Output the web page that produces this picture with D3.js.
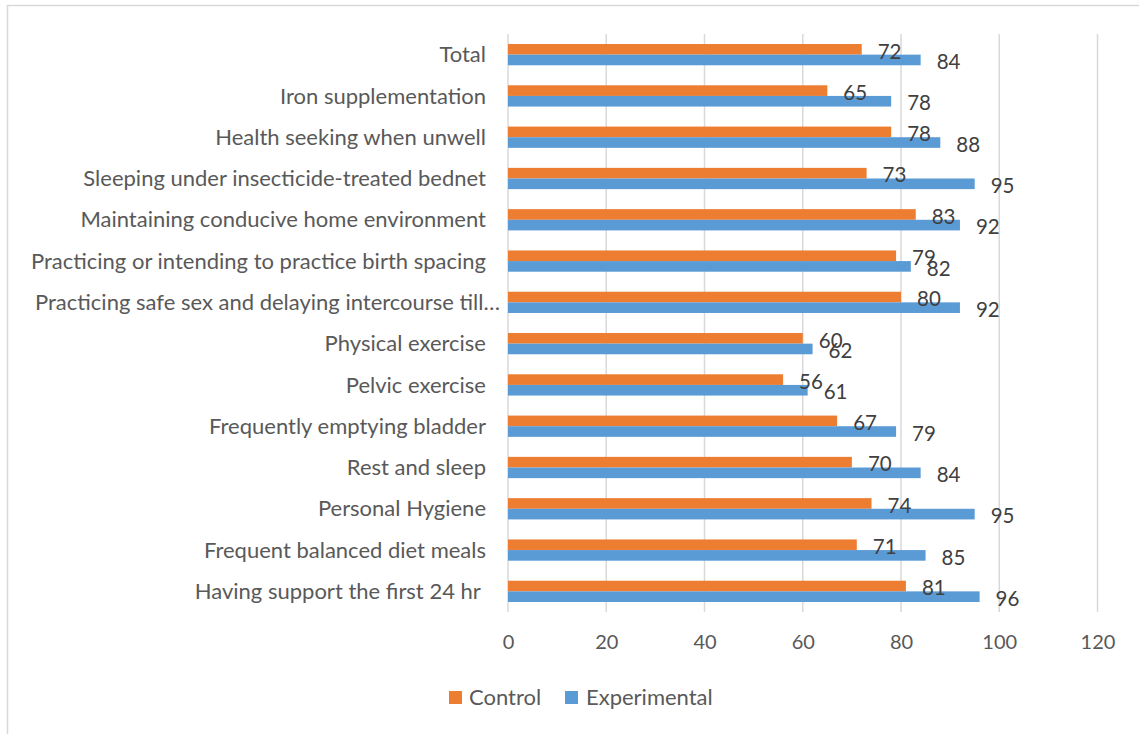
<!DOCTYPE html>
<html>
<head>
<meta charset="utf-8">
<script src="https://cdn.jsdelivr.net/npm/d3@7"></script>
<style>
  html, body { margin: 0; padding: 0; background: #fff; }
  svg { display: block; font-family: "Lato", "Liberation Sans", sans-serif; }
</style>
</head>
<body>
<svg id="chart" width="1139" height="734"></svg>
<script>
// Categories listed top to bottom as drawn
const categories = [
  "Total",
  "Iron supplementation",
  "Health seeking when unwell",
  "Sleeping under insecticide-treated bednet",
  "Maintaining conducive home environment",
  "Practicing or intending to practice birth spacing",
  "Practicing safe sex and delaying intercourse till…",
  "Physical exercise",
  "Pelvic exercise",
  "Frequently emptying bladder",
  "Rest and sleep",
  "Personal Hygiene",
  "Frequent balanced diet meals",
  "Having support the first 24 hr "
];
const controlValues      = [72, 65, 78, 73, 83, 79, 80, 60, 56, 67, 70, 74, 71, 81];
const experimentalValues = [84, 78, 88, 95, 92, 82, 92, 62, 61, 79, 84, 95, 85, 96];
const seriesNames = ["Control", "Experimental"];
const seriesColors = ["#ED7D31", "#5B9BD5"];
const xTicks = [0, 20, 40, 60, 80, 100, 120];

const rows = categories.map((c, i) => ({
  category: c,
  values: [controlValues[i], experimentalValues[i]]
}));

const svg = d3.select("#chart");

// outer chart frame
svg.append("rect")
  .attr("x", 7.5).attr("y", 5.5)
  .attr("width", 1200).attr("height", 800)
  .attr("fill", "none").attr("stroke", "#D9D9D9").attr("stroke-width", 1.5);

const plot = { left: 508, right: 1097.5, top: 34, bottom: 612 };

const x = d3.scaleLinear().domain([0, 120]).range([plot.left, plot.right]);
const y = d3.scaleBand().domain(categories)
  .range([plot.top, plot.bottom])
  .paddingInner(0.485).paddingOuter(0.2425);
const ySub = d3.scaleBand().domain(seriesNames).range([0, y.bandwidth()]);

// vertical gridlines
svg.append("g").selectAll("line").data(xTicks).join("line")
  .attr("x1", d => x(d)).attr("x2", d => x(d))
  .attr("y1", plot.top).attr("y2", plot.bottom)
  .attr("stroke", "#D9D9D9").attr("stroke-width", 1.5);

// x axis tick labels
const xAxis = d3.axisBottom(x).tickValues(xTicks).tickSize(0).tickPadding(0);
const gx = svg.append("g").attr("transform", `translate(0,${plot.bottom + 23})`).call(xAxis);
gx.select(".domain").remove();
gx.selectAll("text")
  .attr("font-size", 20).attr("fill", "#595959")
  .attr("font-family", "Lato, 'Liberation Sans', sans-serif")
  .attr("dy", "0.71em");

// category labels (the truncated label sits closer to the bars)
const yAxis = d3.axisLeft(y).tickSize(0).tickPadding(0);
const gy = svg.append("g").attr("transform", `translate(${plot.left - 22},0)`).call(yAxis);
gy.select(".domain").remove();
gy.selectAll("text")
  .attr("font-size", 22).attr("fill", "#595959")
  .attr("font-family", "Lato, 'Liberation Sans', sans-serif")
  .attr("dy", "0.35em")
  .attr("x", d => d.endsWith("…") ? 14 : 0)
  .style("white-space", "pre");

// bars and value labels
const groups = svg.append("g").selectAll("g").data(rows).join("g")
  .attr("transform", d => `translate(0,${y(d.category)})`);

groups.selectAll("rect").data(d => d.values.map((v, i) => ({ v, s: seriesNames[i], c: seriesColors[i] })))
  .join("rect")
  .attr("x", x(0))
  .attr("y", d => ySub(d.s))
  .attr("width", d => x(d.v) - x(0))
  .attr("height", ySub.bandwidth())
  .attr("fill", d => d.c);

groups.selectAll("text").data(d => d.values.map((v, i) => ({ v, s: seriesNames[i] })))
  .join("text")
  .attr("x", d => x(d.v) + 16)
  .attr("y", d => ySub(d.s) + ySub.bandwidth() / 2 + 2)
  .attr("dy", "0.35em")
  .attr("font-size", 20.5).attr("fill", "#404040")
  .text(d => d.v);

// legend
const legend = svg.append("g");
const legendItems = [
  { name: seriesNames[0], color: seriesColors[0], sx: 449, tx: 469 },
  { name: seriesNames[1], color: seriesColors[1], sx: 565, tx: 586 }
];
legend.selectAll("rect").data(legendItems).join("rect")
  .attr("x", d => d.sx).attr("y", 691).attr("width", 13).attr("height", 13)
  .attr("fill", d => d.color);
legend.selectAll("text").data(legendItems).join("text")
  .attr("x", d => d.tx).attr("y", 697.5).attr("dy", "0.35em")
  .attr("font-size", 22).attr("fill", "#595959")
  .text(d => d.name);
</script>
</body>
</html>
